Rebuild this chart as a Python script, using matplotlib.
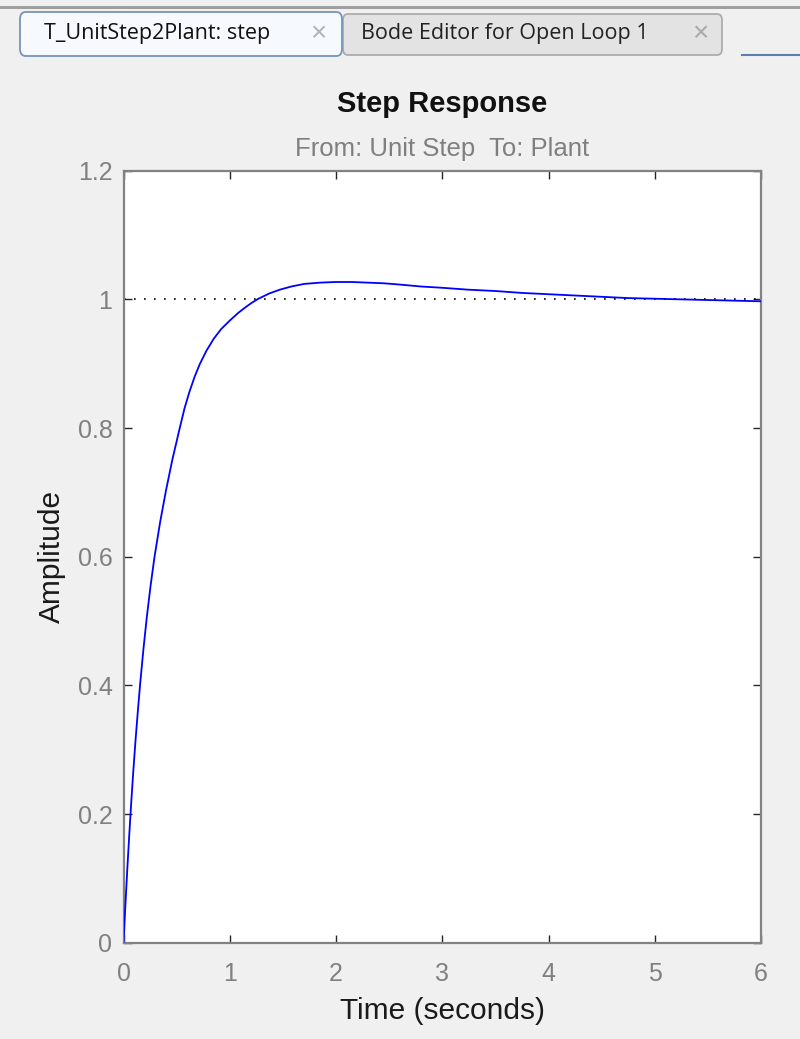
import matplotlib
matplotlib.use("Agg")
import matplotlib.pyplot as plt
from matplotlib.patches import FancyBboxPatch, Rectangle
from matplotlib.lines import Line2D

# ---- data ----
time_s = [0.0, 0.018, 0.036, 0.054, 0.072, 0.092, 0.112, 0.134, 0.157, 0.188, 0.22, 0.255,
          0.292, 0.345, 0.40, 0.46, 0.528, 0.575, 0.62, 0.67, 0.717, 0.78, 0.85, 0.92, 1.0,
          1.08, 1.15, 1.21, 1.27, 1.37, 1.47, 1.58, 1.7, 1.85, 2.0, 2.15, 2.3, 2.45, 2.6,
          2.8, 3.0, 3.25, 3.5, 3.75, 4.0, 4.25, 4.5, 4.75, 5.0, 5.25, 5.5, 5.75, 6.0]
amplitude = [0.0, 0.059, 0.115, 0.167, 0.216, 0.266, 0.312, 0.358, 0.403, 0.457, 0.507, 0.555,
             0.600, 0.654, 0.703, 0.751, 0.799, 0.831, 0.856, 0.880, 0.899, 0.920, 0.939, 0.954, 0.967,
             0.979, 0.988, 0.995, 1.001, 1.009, 1.015, 1.020, 1.024, 1.026, 1.027, 1.027, 1.026, 1.025, 1.023,
             1.020, 1.018, 1.015, 1.013, 1.010, 1.008, 1.006, 1.004, 1.002, 1.001, 1.000, 0.999, 0.998, 0.997]
steady_state = 1.0
x_ticks = [0, 1, 2, 3, 4, 5, 6]
y_ticks = [0, 0.2, 0.4, 0.6, 0.8, 1.0, 1.2]
y_tick_labels = ["0", "0.2", "0.4", "0.6", "0.8", "1", "1.2"]
title = "Step Response"
subtitle = "From: Unit Step  To: Plant"
xlabel = "Time (seconds)"
ylabel = "Amplitude"
tab_labels = ["T_UnitStep2Plant: step", "Bode Editor for Open Loop 1"]

W, H = 800, 1039
plt.rcParams['font.family'] = ['Liberation Sans', 'DejaVu Sans']
fig = plt.figure(figsize=(W / 100, H / 100), dpi=100)
fig.patch.set_facecolor('#f0f0f0')

def fx(px):
    return px / W

def fy(py):
    return 1 - py / H

# ---- tab strip ----
fig.add_artist(Rectangle((0, fy(9)), 1, 3 / H, transform=fig.transFigure,
                         facecolor='#a0a0a0', edgecolor='none'))
# second tab
fig.add_artist(FancyBboxPatch((fx(343), fy(55)), (722 - 343) / W, (55 - 14) / H,
                              boxstyle="round,pad=0,rounding_size=0.006",
                              transform=fig.transFigure, facecolor='#e3e3e3',
                              edgecolor='#a8a8a8', linewidth=1.2))
# first (active) tab
fig.add_artist(FancyBboxPatch((fx(20), fy(56)), (342 - 20) / W, (56 - 12) / H,
                              boxstyle="round,pad=0,rounding_size=0.007",
                              transform=fig.transFigure, facecolor='#f6f9fd',
                              edgecolor='#7894b8', linewidth=1.3))
fig.add_artist(Line2D([fx(742), 1], [fy(55), fy(55)], transform=fig.transFigure,
                      color='#5b7fb0', linewidth=1.5))
fig.text(fx(44), fy(33), tab_labels[0], fontsize=15.5, family=['Open Sans', 'DejaVu Sans'],
         ha='left', va='center', color='#111111')
fig.text(fx(318), fy(34), "\u00d7", fontsize=20, ha='center', va='center', color='#b4b4b4')
fig.text(fx(361), fy(33), tab_labels[1], fontsize=15.5, family=['Open Sans', 'DejaVu Sans'],
         ha='left', va='center', color='#222222')
fig.text(fx(700), fy(34), "\u00d7", fontsize=20, ha='center', va='center', color='#a8a8a8')

# ---- axes ----
left, right, top, bottom = 123.5, 761, 170.7, 942.7
ax = fig.add_axes([fx(left), fy(bottom), (right - left) / W, (bottom - top) / H])
ax.set_facecolor('white')
ax.plot(time_s, amplitude, color='#0000ff', linewidth=1.3, zorder=3)
ax.axhline(steady_state, color='black', linestyle=(0, (1, 5)), linewidth=1.2, zorder=2)
ax.set_xlim(0, 6)
ax.set_ylim(0, 1.2)
ax.set_xticks(x_ticks)
ax.set_xticklabels([str(v) for v in x_ticks])
ax.set_yticks(y_ticks)
ax.set_yticklabels(y_tick_labels)
ax.tick_params(direction='in', length=6, width=1, colors='#262626',
               labelcolor='#808080', labelsize=18, top=True, right=True)
ax.tick_params(axis='y', pad=8)
ax.tick_params(axis='x', pad=14)
for s in ax.spines.values():
    s.set_color('#828282')
    s.set_linewidth(1.6)

ax.set_xlabel(xlabel, fontsize=21.5, color='#1a1a1a', labelpad=8)
ax.set_ylabel(ylabel, fontsize=21.5, color='#1a1a1a', labelpad=8)

cx = (left + right) / 2
fig.text(fx(cx), fy(104), title, fontsize=21, fontweight='bold', ha='center', va='center',
         color='#111111')
fig.text(fx(cx), fy(149), subtitle, fontsize=18.5, ha='center', va='center', color='#7f7f7f')

fig.savefig('out.png', dpi=100, facecolor=fig.get_facecolor())
